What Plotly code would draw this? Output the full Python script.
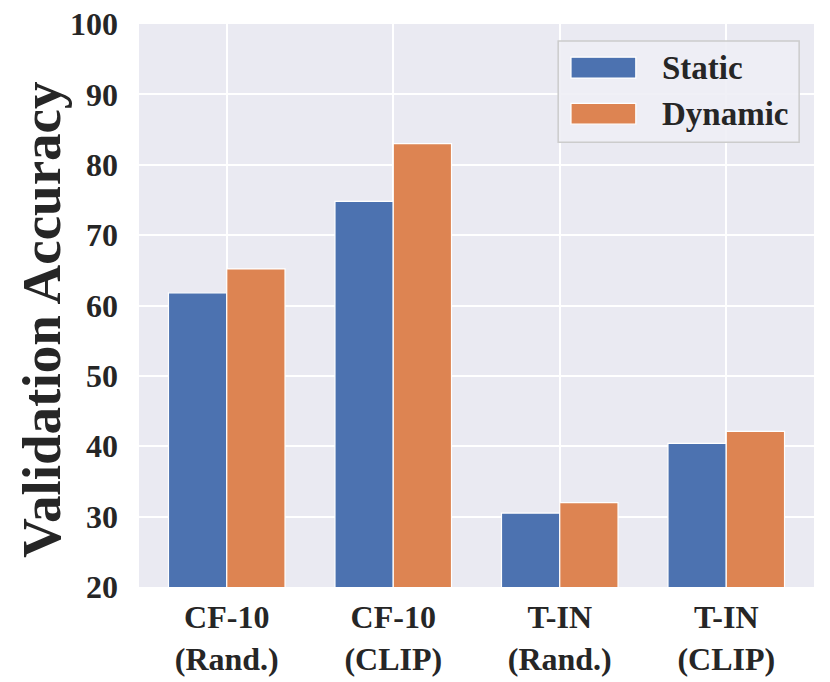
# plot.py - validation accuracy, static vs dynamic (style seaborn "darkgrid")

import plotly.graph_objects as go

CATEGORIES = ["CF-10<br>(Rand.)", "CF-10<br>(CLIP)", "T-IN<br>(Rand.)", "T-IN<br>(CLIP)"]
STATIC = [61.8, 74.8, 30.5, 40.4]
DYNAMIC = [65.2, 83.0, 32.0, 42.1]
SERIES = ["Static", "Dynamic"]
Y_TICKS = [20, 30, 40, 50, 60, 70, 80, 90, 100]

BG = "#EAEAF2"
BLUE = "#4C72B0"
ORANGE = "#DD8452"
INK = "#262626"
FONT = "Liberation Serif"

fig = go.Figure()
for name, vals, col in [(SERIES[0], STATIC, BLUE), (SERIES[1], DYNAMIC, ORANGE)]:
    fig.add_trace(go.Bar(
        x=CATEGORIES, y=vals, name=name, marker_color=col,
        marker_line=dict(color="white", width=1.2), showlegend=False))

# legende dessinee a la main (patchs larges comme matplotlib)
fig.add_shape(type="rect", xref="paper", yref="paper",
              x0=0.621, x1=0.978, y0=0.790, y1=0.970,
              fillcolor="rgba(238,238,245,0.9)", line=dict(color="#CCCCCC", width=1.5))
for i, (name, col) in enumerate([(SERIES[0], BLUE), (SERIES[1], ORANGE)]):
    y0 = 0.904 - i * 0.082
    fig.add_shape(type="rect", xref="paper", yref="paper",
                  x0=0.640, x1=0.736, y0=y0, y1=y0 + 0.037,
                  fillcolor=col, line=dict(color="white", width=1.2))
    fig.add_annotation(xref="paper", yref="paper", x=0.772, y=y0 + 0.0185,
                       text=f"<b>{name}</b>", showarrow=False,
                       xanchor="left", yanchor="middle",
                       font=dict(family=FONT, size=33, color=INK))

# titre de l'axe y (annotation pour le placer finement)
fig.add_annotation(xref="paper", yref="paper", x=-0.145, y=0.475,
                   text="<b>Validation Accuracy</b>", textangle=-90, showarrow=False,
                   xanchor="center", yanchor="middle",
                   font=dict(family=FONT, size=55, color=INK))

fig.update_layout(
    width=830, height=682,
    paper_bgcolor="white", plot_bgcolor=BG,
    margin=dict(l=139, r=16, t=24, b=95, autoexpand=False),
    bargap=0.3, bargroupgap=0, barmode="group",
    font=dict(family=FONT, color=INK, size=32, weight="bold"),
)
fig.update_xaxes(range=[-0.527, 3.527], showgrid=True, gridcolor="white", gridwidth=1.5,
                 zeroline=False, showline=False, ticks="", ticklabelstandoff=8,
                 automargin=False,
                 tickfont=dict(family=FONT, size=32, color=INK, weight="bold"))
fig.update_yaxes(range=[20, 100], tickvals=Y_TICKS, showgrid=True, gridcolor="white",
                 gridwidth=1.5, zeroline=False, showline=False, ticks="",
                 ticklabelstandoff=20, automargin=False,
                 tickfont=dict(family=FONT, size=32, color=INK, weight="bold"))

# pas de marge de page autour de la figure
fig.write_html("out.html", config={"displayModeBar": False},
               post_script="document.body.style.margin='0';")
